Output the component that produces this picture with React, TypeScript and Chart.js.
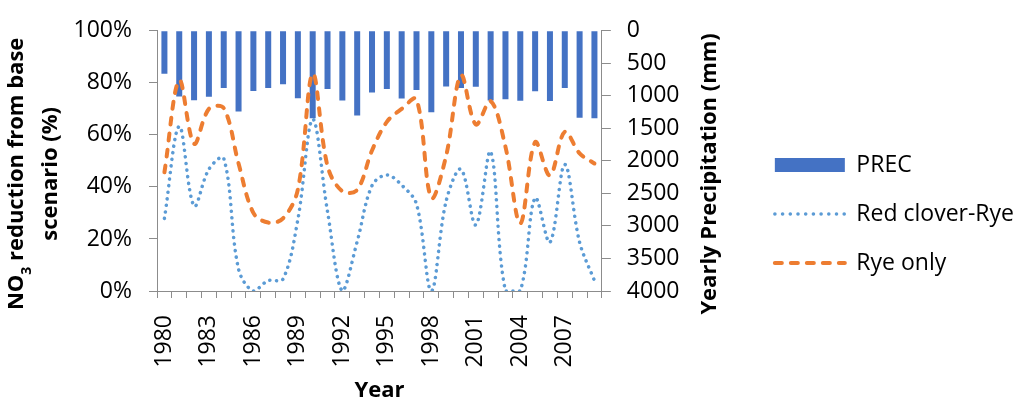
import React, { useEffect, useRef } from "react";
import { Chart, registerables } from "chart.js";

Chart.register(...registerables);

const years = [
  "1980", "1981", "1982", "1983", "1984", "1985", "1986", "1987", "1988", "1989",
  "1990", "1991", "1992", "1993", "1994", "1995", "1996", "1997", "1998", "1999",
  "2000", "2001", "2002", "2003", "2004", "2005", "2006", "2007", "2008", "2009",
];

const precMm = [
  660, 1010, 1066, 1012, 880, 1242, 924, 880, 821, 1037,
  1345, 895, 1071, 1301, 949, 895, 1042, 910, 1252, 856,
  880, 861, 1071, 1052, 1076, 930, 1081, 880, 1335, 1345,
];

const redCloverRye = [
  27.9, 63.3, 32.7, 46.8, 51, 8.4, 0, 4, 4.6, 27.5,
  66, 30.5, 0, 19, 40.5, 44.6, 40.7, 33.4, 0, 34.6,
  46.8, 25.4, 53.5, 0, 0, 35.8, 18.7, 48.6, 18.7, 4,
];

const ryeOnly = [
  45.6, 81, 56.6, 70, 70.3, 49, 30, 26.3, 27.9, 39,
  83.5, 48, 38.3, 38.9, 54, 65, 70, 73.7, 35.8, 52,
  82.9, 64, 73, 55.4, 26, 57.2, 44.4, 61.2, 52.9, 49,
];

const leftTicks = [0, 20, 40, 60, 80, 100];
const rightTicks = [0, 500, 1000, 1500, 2000, 2500, 3000, 3500, 4000];

const seriesNames = ["PREC", "Red clover-Rye", "Rye only"];
const xTitle = "Year";
const leftTitleLine1 = ["NO", "3", " reduction from base"];
const leftTitleLine2 = "scenario (%)";
const rightTitle = "Yearly Precipitation (mm)";

const FONT = '"Open Sans", "Noto Sans", sans-serif';
const AXIS_GREY = "#8C8C8C";
const BAR_BLUE = "#4472C4";
const LINE_BLUE = "#5B9BD5";
const ORANGE = "#ED7D31";

const sideTitles = {
  id: "sideTitles",
  afterDraw(chart: any) {
    const ctx = chart.ctx as CanvasRenderingContext2D;
    const area = chart.chartArea;
    const cy = area.top + (area.bottom - area.top) / 2 + 13;
    const big = `bold 22px ${FONT}`;
    const small = `bold 14px ${FONT}`;
    ctx.save();
    ctx.fillStyle = "#000";
    ctx.textBaseline = "alphabetic";

    // left title line 1 with subscript
    ctx.font = big;
    const wNO = ctx.measureText(leftTitleLine1[0]).width;
    const wRest = ctx.measureText(leftTitleLine1[2]).width;
    ctx.font = small;
    const w3 = ctx.measureText(leftTitleLine1[1]).width;
    const total = wNO + w3 + wRest;
    ctx.save();
    ctx.translate(23, cy);
    ctx.rotate(-Math.PI / 2);
    ctx.textAlign = "left";
    let x = -total / 2;
    ctx.font = big;
    ctx.fillText(leftTitleLine1[0], x, 0);
    x += wNO;
    ctx.font = small;
    ctx.fillText(leftTitleLine1[1], x, 8);
    x += w3;
    ctx.font = big;
    ctx.fillText(leftTitleLine1[2], x, 0);
    ctx.restore();

    // left title line 2
    ctx.save();
    ctx.translate(57, cy);
    ctx.rotate(-Math.PI / 2);
    ctx.textAlign = "center";
    ctx.font = big;
    ctx.fillText(leftTitleLine2, 0, 0);
    ctx.restore();

    // right title (reads bottom to top)
    const rx = area.right + 114;
    ctx.save();
    ctx.translate(rx, cy);
    ctx.rotate(-Math.PI / 2);
    ctx.textAlign = "center";
    ctx.font = big;
    ctx.fillText(rightTitle, 0, 0);
    ctx.restore();

    ctx.restore();
  },
};

export default function App() {
  const canvasRef = useRef<HTMLCanvasElement | null>(null);

  useEffect(() => {
    if (!canvasRef.current) return;
    const tickFont = { family: FONT, size: 23 };
    const chart = new Chart(canvasRef.current, {
      type: "bar",
      data: {
        labels: years,
        datasets: [
          {
            type: "bar",
            label: seriesNames[0],
            data: precMm,
            backgroundColor: BAR_BLUE,
            borderWidth: 0,
            barPercentage: 0.45,
            categoryPercentage: 0.9,
            yAxisID: "y1",
            order: 2,
          },
          {
            type: "line",
            label: seriesNames[1],
            data: redCloverRye,
            borderColor: LINE_BLUE,
            backgroundColor: LINE_BLUE,
            borderWidth: 3.5,
            borderDash: [0.1, 6.5],
            borderCapStyle: "round",
            pointRadius: 0,
            tension: 0.35,
            fill: false,
            yAxisID: "y",
            order: 1,
          },
          {
            type: "line",
            label: seriesNames[2],
            data: ryeOnly,
            borderColor: ORANGE,
            backgroundColor: ORANGE,
            borderWidth: 4,
            borderDash: [7, 9],
            borderCapStyle: "round",
            pointRadius: 0,
            tension: 0.35,
            fill: false,
            yAxisID: "y",
            order: 0,
          },
        ] as any,
      },
      options: {
        animation: false,
        responsive: true,
        maintainAspectRatio: false,
        events: [],
        layout: { padding: { top: 18, bottom: 8, left: 0, right: 0 } },
        plugins: {
          tooltip: { enabled: false },
          title: { display: false },
          legend: {
            display: true,
            position: "right",
            maxWidth: 400,
            labels: {
              usePointStyle: true,
              pointStyleWidth: 70,
              boxHeight: 14,
              padding: 26,
              color: "#000",
              font: { family: FONT, size: 23 },
              generateLabels: () => [
                {
                  text: seriesNames[0],
                  fillStyle: BAR_BLUE,
                  strokeStyle: BAR_BLUE,
                  lineWidth: 0,
                  pointStyle: "rect",
                  datasetIndex: 0,
                  hidden: false,
                  fontColor: "#000",
                },
                {
                  text: seriesNames[1],
                  fillStyle: "rgba(0,0,0,0)",
                  strokeStyle: LINE_BLUE,
                  lineWidth: 3.5,
                  lineDash: [0.1, 7.6],
                  lineCap: "round",
                  pointStyle: "line",
                  datasetIndex: 1,
                  hidden: false,
                  fontColor: "#000",
                },
                {
                  text: seriesNames[2],
                  fillStyle: "rgba(0,0,0,0)",
                  strokeStyle: ORANGE,
                  lineWidth: 4,
                  lineDash: [7, 9],
                  lineCap: "round",
                  pointStyle: "line",
                  datasetIndex: 2,
                  hidden: false,
                  fontColor: "#000",
                },
              ] as any,
            },
          },
        },
        scales: {
          x: {
            type: "category",
            offset: true,
            afterFit: (scale: any) => {
              scale.height = 119;
            },
            grid: {
              offset: true,
              drawOnChartArea: false,
              drawTicks: true,
              tickLength: 7,
              color: AXIS_GREY,
              lineWidth: 1,
            },
            border: { display: true, color: AXIS_GREY, width: 1 },
            ticks: {
              autoSkip: false,
              minRotation: 90,
              maxRotation: 90,
              padding: 17,
              color: "#000",
              font: tickFont,
              callback: (_v: any, i: number) => (i % 3 === 0 ? years[i] : ""),
            },
            title: {
              display: true,
              text: xTitle,
              color: "#000",
              font: { family: FONT, size: 22, weight: "bold" },
              padding: { top: 0, bottom: 6 },
            },
          },
          y: {
            type: "linear",
            position: "left",
            min: 0,
            max: 100,
            afterFit: (scale: any) => {
              scale.width = 157;
            },
            afterBuildTicks: (scale: any) => {
              scale.ticks = leftTicks.map((v) => ({ value: v }));
            },
            grid: {
              drawOnChartArea: false,
              drawTicks: true,
              tickLength: 8,
              color: AXIS_GREY,
            },
            border: { display: true, color: AXIS_GREY, width: 1 },
            ticks: {
              padding: 17,
              color: "#000",
              font: tickFont,
              callback: (v: any) => `${v}%`,
            },
          },
          y1: {
            type: "linear",
            position: "right",
            min: 0,
            max: 4000,
            reverse: true,
            afterFit: (scale: any) => {
              scale.width = 147;
            },
            afterBuildTicks: (scale: any) => {
              scale.ticks = rightTicks.map((v) => ({ value: v }));
            },
            grid: {
              drawOnChartArea: false,
              drawTicks: true,
              tickLength: 9,
              color: AXIS_GREY,
            },
            border: { display: true, color: AXIS_GREY, width: 1 },
            ticks: {
              padding: 16,
              color: "#000",
              font: tickFont,
              callback: (v: any) => `${v}`,
            },
          },
        },
      } as any,
      plugins: [sideTitles],
    });
    return () => chart.destroy();
  }, []);

  return (
    <div
      style={{
        position: "absolute",
        left: 0,
        top: 0,
        width: 1024,
        height: 418,
        background: "#fff",
      }}
    >
      <canvas ref={canvasRef} />
    </div>
  );
}
